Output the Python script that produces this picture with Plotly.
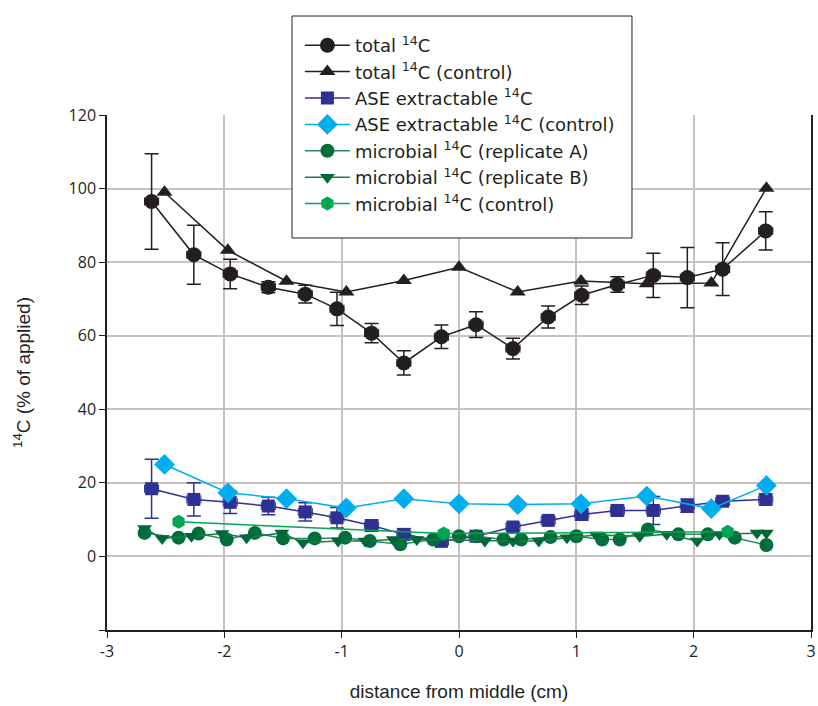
import plotly.graph_objects as go

# ---- data ----
total_x = [-2.62, -2.26, -1.95, -1.625, -1.31, -1.04, -0.745, -0.47, -0.15, 0.145, 0.46, 0.76, 1.046, 1.35, 1.656, 1.946, 2.247, 2.614]
total_y = [96.5, 82.0, 76.8, 73.2, 71.3, 67.3, 60.7, 52.6, 59.7, 63.0, 56.5, 65.1, 71.0, 73.9, 76.4, 75.8, 78.1, 88.5]
total_err = [13, 8, 4, 1.5, 2.4, 4.5, 2.6, 3.3, 3.2, 3.5, 2.8, 3, 2.5, 2.1, 6, 8.2, 7.2, 5.2]

ctrl_x = [-2.51, -1.97, -1.47, -0.96, -0.47, 0.0, 0.5, 1.04, 1.6, 2.15, 2.62]
total_ctrl_y = [99.0, 83.2, 74.8, 71.9, 75.0, 78.6, 71.9, 74.9, 74.1, 74.3, 100.1]

ase_y = [18.4, 15.5, 14.7, 13.7, 12.1, 10.5, 8.4, 6.0, 4.1, 5.5, 8.0, 9.8, 11.4, 12.5, 12.5, 13.8, 15.0, 15.5]
ase_err = [8, 4.5, 3, 2.4, 2.5, 2.8, 1.5, 1.5, 1, 1, 1, 1, 1.5, 1.5, 3.8, 1.8, 1, 1.5]
ase_ctrl_y = [25.0, 17.3, 15.7, 13.2, 15.7, 14.3, 14.1, 14.3, 16.4, 13.0, 19.3]

micA_x = [-2.68, -2.39, -2.22, -1.98, -1.74, -1.50, -1.23, -0.97, -0.76, -0.50, -0.22, 0.0, 0.15, 0.38, 0.53, 0.78, 1.0, 1.22, 1.37, 1.61, 1.87, 2.12, 2.35, 2.62]
micA_y = [6.4, 5.1, 6.2, 4.6, 6.4, 4.9, 4.9, 5.1, 4.2, 3.3, 4.6, 5.5, 5.5, 4.6, 4.6, 5.3, 5.5, 4.6, 4.6, 7.3, 6.0, 6.0, 5.1, 3.1]

micB_x = [-2.68, -2.53, -2.28, -2.02, -1.81, -1.51, -1.33, -1.03, -0.80, -0.56, -0.36, 0.22, 0.46, 0.68, 0.92, 1.17, 1.54, 1.77, 2.03, 2.22, 2.54, 2.62]
micB_y = [7.6, 4.9, 5.5, 6.2, 5.1, 6.4, 3.7, 4.2, 4.2, 4.6, 4.6, 4.2, 4.2, 4.2, 5.1, 5.8, 5.5, 6.0, 4.2, 6.0, 6.4, 6.4]

micC_x = [-2.39, -0.13, 2.29]
micC_y = [9.4, 6.2, 6.7]

y_ticks = [-20, 0, 20, 40, 60, 80, 100, 120]
y_labels = ["", "0", "20", "40", "60", "80", "100", "120"]
x_ticks = [-3, -2, -1, 0, 1, 2, 3]
x_labels = ["-3", "-2", "-1", "0", "1", "2", "3"]

BLACK = "#231f20"
NAVY = "#2e3192"
CYAN = "#00aeef"
DKGREEN = "#006f3c"
GREEN_B = "#006838"
GREEN_C = "#00a651"

fig = go.Figure()

xerr = dict(type="constant", value=0.06, thickness=1, width=4)

fig.add_trace(go.Scatter(
    x=total_x, y=total_y, mode="lines+markers", name="total <sup>14</sup>C",
    line=dict(color=BLACK, width=1.5),
    marker=dict(symbol="circle", size=15, color=BLACK),
    error_y=dict(type="data", array=total_err, color=BLACK, thickness=1.5, width=7),
    error_x=dict(xerr, color=BLACK)))
fig.add_trace(go.Scatter(
    x=ctrl_x, y=total_ctrl_y, mode="lines+markers", name="total <sup>14</sup>C (control)",
    line=dict(color=BLACK, width=1.5),
    marker=dict(symbol="triangle-up", size=14, color=BLACK)))
fig.add_trace(go.Scatter(
    x=total_x, y=ase_y, mode="lines+markers", name="ASE extractable <sup>14</sup>C",
    line=dict(color=NAVY, width=1.5),
    marker=dict(symbol="square", size=13, color=NAVY),
    error_y=dict(type="data", array=ase_err, color=NAVY, thickness=1.5, width=7),
    error_x=dict(xerr, color=NAVY)))
fig.add_trace(go.Scatter(
    x=ctrl_x, y=ase_ctrl_y, mode="lines+markers", name="ASE extractable <sup>14</sup>C (control)",
    line=dict(color=CYAN, width=1.5),
    marker=dict(symbol="diamond", size=16, color=CYAN)))
fig.add_trace(go.Scatter(
    x=micA_x, y=micA_y, mode="lines+markers", name="microbial <sup>14</sup>C (replicate A)",
    line=dict(color="#2a8a5a", width=1.5),
    marker=dict(symbol="circle", size=14, color=DKGREEN)))
fig.add_trace(go.Scatter(
    x=micB_x, y=micB_y, mode="lines+markers", name="microbial <sup>14</sup>C (replicate B)",
    line=dict(color="#1a7a4a", width=1.5),
    marker=dict(symbol="triangle-down", size=13, color=GREEN_B)))
fig.add_trace(go.Scatter(
    x=micC_x, y=micC_y, mode="lines+markers", name="microbial <sup>14</sup>C (control)",
    line=dict(color=GREEN_C, width=1.5),
    marker=dict(symbol="hexagon", size=14, color=GREEN_C)))

# legend frame (white box with black border)
fig.add_shape(type="rect", xref="paper", yref="paper",
              x0=0.2628, x1=0.7457, y0=0.7612, y1=1.1922,
              fillcolor="white", line=dict(color=BLACK, width=1), layer="above")

fig.update_layout(
    width=818, height=706,
    margin=dict(l=107, r=7, t=115, b=76, autoexpand=False),
    paper_bgcolor="white", plot_bgcolor="white",
    font=dict(family="Liberation Sans, Arial, sans-serif", color=BLACK),
    showlegend=True,
    legend=dict(x=0.274, y=1.1709, xanchor="left", yanchor="top",
                bgcolor="rgba(0,0,0,0)", borderwidth=0,
                font=dict(size=18, family="DejaVu Sans, sans-serif", color="#231f20"),
                itemwidth=45, tracegroupgap=0),
    xaxis=dict(range=[-3, 3], tickvals=x_ticks, ticktext=x_labels, ticks="outside", ticklen=6, tickwidth=1.2,
               tickcolor=BLACK, showline=True, linecolor=BLACK, linewidth=1.5,
               showgrid=True, gridcolor="#c9c1c1", gridwidth=1.5, zeroline=False,
               ticklabeloverflow="allow",
               tickfont=dict(size=16, family="Open Sans, sans-serif"),
               title=dict(text="distance from middle (cm)", font=dict(size=19), standoff=24)),
    yaxis=dict(range=[-20, 120], tickvals=y_ticks, ticktext=y_labels, ticks="outside",
               ticklen=6, tickwidth=1.2, tickcolor=BLACK, showline=True, linecolor=BLACK,
               linewidth=1.5, mirror=True, showgrid=True, gridcolor="#c9c1c1", gridwidth=1.5,
               zeroline=False, tickfont=dict(size=16, family="Open Sans, sans-serif"),
               title=dict(text="<sup>14</sup>C (% of applied)", font=dict(size=19), standoff=33)),
)

fig.write_html("out.html", config={"displayModeBar": False},
               post_script="document.body.style.margin='0px';document.documentElement.style.overflow='hidden';")
